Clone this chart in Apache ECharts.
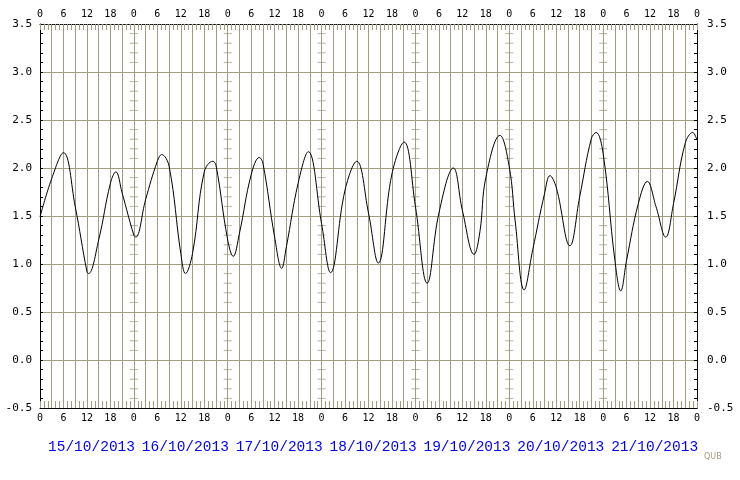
<!DOCTYPE html>
<html><head><meta charset="utf-8">
<script src="https://cdn.jsdelivr.net/npm/echarts/dist/echarts.min.js"></script>
<style>html,body{margin:0;padding:0;background:#fff}#c{width:740px;height:480px}</style>
</head><body><div id="c"></div>
<script>
const dates = ['15/10/2013','16/10/2013','17/10/2013','18/10/2013','19/10/2013','20/10/2013','21/10/2013'];
const hourLabels = ['0','6','12','18'];
const hours = [0,3,6,9,12,12.4,15,18,19.4,21,24,24.5,27,30,31.1,33,36,37.2,39,42,44.2,45,48,49.4,51,54,56.1,57,60,61.8,63,66,68.6,72,74.3,78,81,84,86.5,90,93.1,96,99,102,105.7,108,111,112.5,114,117.6,120,121.5,123.8,126,129,130.4,132,135.5,138,141,142.2,144,147,148.5,150,153,155.3,157.5,160,162,165,166.9,168];
const levels = [1.49,1.89,2.16,1.60,0.92,0.90,1.25,1.84,1.96,1.74,1.30,1.28,1.67,2.07,2.14,2.02,1.11,0.90,1.11,1.96,2.07,2.03,1.25,1.08,1.32,1.93,2.11,2.05,1.28,0.955,1.18,1.84,2.17,1.42,0.91,1.77,2.07,1.53,1.01,1.94,2.27,1.60,0.80,1.53,2.00,1.56,1.10,1.34,1.90,2.34,2.01,1.45,0.73,1.15,1.73,1.92,1.80,1.19,1.70,2.31,2.37,2.15,1.04,0.72,1.04,1.63,1.86,1.60,1.28,1.63,2.26,2.37,2.29];

const GRID = '#a09c80';
const chart = echarts.init(document.getElementById('c'), null, {renderer: 'canvas'});

const dayTicks = [];
for (let d = 1; d < dates.length; d++) {
  for (let k = -5; k <= 35; k++) {
    if (k % 5 !== 0) dayTicks.push([d * 24, k / 10]);
  }
}

const hourFmt = v => { const r = Math.round(v); return r % 6 === 0 ? hourLabels[(r % 24) / 6] : ''; };
const xLabel = {fontFamily: 'DejaVu Sans Mono', fontSize: 10, color: '#000', margin: 5, formatter: hourFmt};
const yLabel = {fontFamily: 'DejaVu Sans Mono', fontSize: 11, color: '#000', margin: 8, formatter: v => v.toFixed(1)};

chart.setOption({
  animation: false,
  backgroundColor: '#fff',
  title: {text: 'QUB', left: 704, top: 453, padding: 0,
    textStyle: {fontSize: 8, color: GRID, fontWeight: 'normal', fontFamily: 'DejaVu Sans'}},
  grid: {left: 40, right: 43, top: 24, bottom: 72, containLabel: false},
  xAxis: [
    {type: 'value', position: 'bottom', min: 0, max: 168, interval: 3,
      axisLine: {show: true, onZero: false, lineStyle: {color: '#000', width: 1}},
      axisTick: {show: true, inside: true, length: 7, lineStyle: {color: GRID}},
      minorTick: {show: true, splitNumber: 3, length: 7, lineStyle: {color: GRID}},
      splitLine: {show: true, lineStyle: {color: GRID, width: 1}},
      axisLabel: xLabel},
    {type: 'value', position: 'top', min: 0, max: 168, interval: 3,
      axisLine: {show: true, onZero: false, lineStyle: {color: '#000', width: 1, type: 'dotted'}},
      axisTick: {show: true, inside: true, length: 6, lineStyle: {color: GRID}},
      minorTick: {show: true, splitNumber: 3, length: 6, lineStyle: {color: GRID}},
      splitLine: {show: false},
      axisLabel: xLabel},
    {type: 'value', position: 'bottom', offset: 24, min: 0, max: 168, interval: 24,
      axisLine: {show: false, onZero: false}, axisTick: {show: false}, splitLine: {show: false},
      axisLabel: {fontFamily: 'Liberation Mono', fontSize: 14.5, color: '#0000ff', margin: 8,
        align: 'left', padding: [0, 0, 0, 8],
        formatter: v => dates[Math.round(v / 24)] || ''}}
  ],
  yAxis: [
    {type: 'value', position: 'left', min: -0.5, max: 3.5, interval: 0.5,
      axisLine: {show: true, onZero: false, lineStyle: {color: '#000', width: 1}},
      axisTick: {show: true, inside: true, length: 3, lineStyle: {color: '#000'}},
      minorTick: {show: true, splitNumber: 5, length: 3, lineStyle: {color: '#000'}},
      splitLine: {show: true, lineStyle: {color: GRID, width: 1}},
      axisLabel: yLabel},
    {type: 'value', position: 'right', min: -0.5, max: 3.5, interval: 0.5,
      axisLine: {show: true, onZero: false, lineStyle: {color: '#000', width: 1}},
      axisTick: {show: true, inside: true, length: 3, lineStyle: {color: '#000'}},
      minorTick: {show: true, splitNumber: 5, length: 3, lineStyle: {color: '#000'}},
      splitLine: {show: false},
      axisLabel: Object.assign({}, yLabel, {margin: 10})}
  ],
  series: [
    {type: 'scatter', xAxisIndex: 0, yAxisIndex: 0, data: dayTicks, symbol: 'rect',
      symbolSize: [8, 1], itemStyle: {color: GRID}, silent: true, z: 1},
    {type: 'line', xAxisIndex: 0, yAxisIndex: 0, data: hours.map((h, i) => [h, levels[i]]),
      symbol: 'none', smooth: 0.4, lineStyle: {color: '#000', width: 1}, silent: true, z: 3}
  ]
});
</script>
</body></html>
